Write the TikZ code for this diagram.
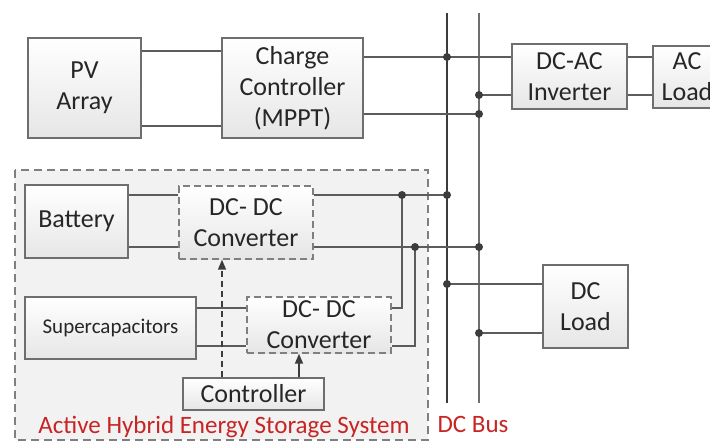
\documentclass[tikz,border=0pt]{standalone}
\usepackage{fontspec}
\setmainfont{Carlito}
\usetikzlibrary{arrows.meta}
\definecolor{boxline}{HTML}{6E6E6E}
\definecolor{boxbot}{HTML}{E6E6E6}
\definecolor{wirecol}{HTML}{5C5C5C}
\definecolor{dotcol}{HTML}{3C3C3C}
\definecolor{regfill}{HTML}{F2F2F2}
\definecolor{regline}{HTML}{7F7F7F}
\definecolor{txt}{HTML}{262626}
\definecolor{redtxt}{RGB}{200,36,36}
\begin{document}
\begin{tikzpicture}[x=1pt,y=-1pt,
  box/.style={draw=boxline, line width=1.3pt, top color=white, bottom color=boxbot,
    inner sep=0pt, align=center, text=txt, font=\fontsize{26}{31}\selectfont},
  dbox/.style={box, dashed, dash pattern=on 7pt off 4pt, draw=regline},
  wire/.style={draw=wirecol, line width=1.4pt},
  busa/.style={draw=dotcol, line width=2.2pt},
  busb/.style={draw=boxline, line width=1.5pt},
  ctl/.style={draw=dotcol, line width=1.4pt, -{Triangle[length=10pt,width=8pt]}},
  redlabel/.style={text=redtxt, inner sep=0pt, font=\fontsize{25}{29}\selectfont}
]
\clip (0,0) rectangle (710,442);
\fill[white] (0,0) rectangle (710,442);

% storage region
\draw[fill=regfill, draw=regline, line width=1.3pt, dash pattern=on 8pt off 5pt]
  (15,170) rectangle (428,440);

% bus coordinates
\coordinate (b1t) at (447,13); \coordinate (b1b) at (447,403);
\coordinate (b2t) at (479,13); \coordinate (b2b) at (479,403);
\draw[busa] (b1t) -- (b1b);
\draw[busb] (b2t) -- (b2b);

% nodes
\node[box, minimum width=113pt, minimum height=100pt] (pv) at (84.5,88) {PV\\Array};
\node[box, minimum width=141pt, minimum height=100pt] (cc) at (292.5,88) {Charge\\Controller\\(MPPT)};
\node[box, minimum width=115pt, minimum height=65pt] (inv) at (569.5,76.5) {DC-AC\\Inverter};
\node[box, minimum width=68pt, minimum height=62pt] (acl) at (687,77) {AC\\Load};
\node[box, minimum width=103pt, minimum height=73pt] (bat) at (76.5,221.5) {Battery};
\node[dbox, minimum width=134pt, minimum height=73pt] (conv1) at (246,222.5) {DC- DC\\Converter};
\node[box, minimum width=171pt, minimum height=62pt, font=\fontsize{21}{25}\selectfont] (sc) at (110.5,328) {Supercapacitors};
\node[dbox, minimum width=144pt, minimum height=56pt] (conv2) at (319,325) {DC- DC\\Converter};
\node[box, minimum width=141pt, minimum height=32pt] (ctrl) at (253.5,394) {Controller};
\node[box, minimum width=85pt, minimum height=83pt] (dcl) at (585.5,306.5) {DC\\Load};

% junction coordinates
\coordinate (j1) at (b1t |- 0,57);
\coordinate (j2) at (b2t |- 0,114);
\coordinate (j3) at (b2t |- 0,95);
\coordinate (j4) at (b1t |- 0,195);
\coordinate (j5) at (402,195);
\coordinate (j6) at (b2t |- 0,247);
\coordinate (j7) at (415,247);
\coordinate (j8) at (b1t |- 0,284);
\coordinate (j9) at (b2t |- 0,333);
\coordinate (k5) at (402,308);
\coordinate (k7) at (415,346);

% wires
\draw[wire] (pv.east |- 0,51) -- (cc.west |- 0,51);
\draw[wire] (pv.east |- 0,126) -- (cc.west |- 0,126);
\draw[wire] (cc.east |- 0,57) -- (inv.west |- 0,57);
\draw[wire] (cc.east |- 0,114) -- (j2);
\draw[wire] (j3) -- (inv.west |- 0,95);
\draw[wire] (inv.east |- 0,57) -- (acl.west |- 0,57);
\draw[wire] (inv.east |- 0,95) -- (acl.west |- 0,95);
\draw[wire] (bat.east |- 0,195) -- (conv1.west |- 0,195);
\draw[wire] (bat.east |- 0,247) -- (conv1.west |- 0,247);
\draw[wire] (conv1.east |- 0,195) -- (j4);
\draw[wire] (conv1.east |- 0,247) -- (j6);
\draw[wire] (j5) -- (k5) -- (conv2.east |- k5);
\draw[wire] (j7) -- (k7) -- (conv2.east |- k7);
\draw[wire] (sc.east |- 0,308) -- (conv2.west |- 0,308);
\draw[wire] (sc.east |- 0,346) -- (conv2.west |- 0,346);
\draw[wire] (j8) -- (dcl.west |- j8);
\draw[wire] (j9) -- (dcl.west |- j9);

% control arrows
\draw[ctl, dash pattern=on 6pt off 4pt] (ctrl.north -| 222,0) -- (conv1.south -| 222,0);
\draw[ctl] (ctrl.north -| 299,0) -- (conv2.south -| 299,0);

% dots
\foreach \p in {j1,j2,j3,j4,j5,j6,j7,j8,j9}
  \fill[dotcol] (\p) circle (4pt);

% labels
\node[redlabel] (lahess) at (224,427) {Active Hybrid Energy Storage System};
\node[redlabel] (lbus) at (473,424) {DC Bus};
\end{tikzpicture}
\end{document}
